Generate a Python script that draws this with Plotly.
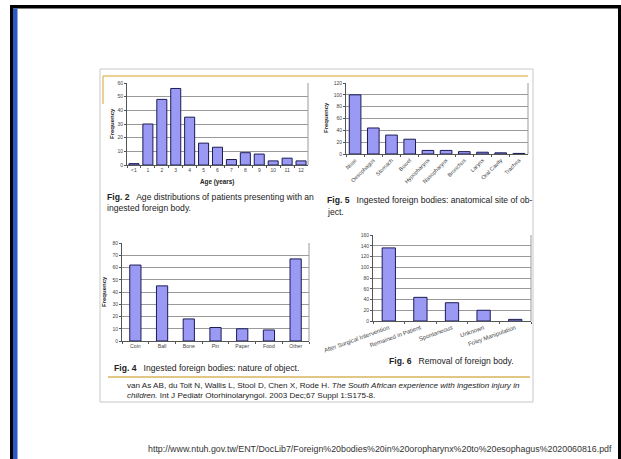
import plotly.graph_objects as go

W, H = 621, 459

# ---- data ----
age_labels = ["<1", "1", "2", "3", "4", "5", "6", "7", "8", "9", "10", "11", "12"]
age_freq = [1, 30, 48, 56, 35, 16, 13, 4, 9, 8, 3, 5, 3]

site_labels = ["Nose", "Oesophagus", "Stomach", "Bowel", "Hypopharynx", "Nasopharynx",
               "Bronchus", "Larynx", "Oral Cavity", "Trachea"]
site_freq = [100, 44, 32, 25, 6, 6, 4, 3, 2, 1]

object_labels = ["Coin", "Ball", "Bone", "Pin", "Paper", "Food", "Other"]
object_freq = [62, 45, 18, 11, 10, 9, 67]

removal_labels = ["After Surgical Intervention", "Remained in Patient", "Spontaneous",
                  "Unknown", "Foley Manipulation"]
removal_freq = [136, 44, 34, 20, 3]

y_ticks_fig2 = [0, 10, 20, 30, 40, 50, 60]
y_ticks_fig5 = [0, 20, 40, 60, 80, 100, 120]
y_ticks_fig4 = [0, 10, 20, 30, 40, 50, 60, 70, 80]
y_ticks_fig6 = [0, 20, 40, 60, 80, 100, 120, 140, 160]


def px(x):
    return x / W


def py(y):
    return 1 - y / H


BAR = "#9a9af5"
BAR_LINE = "#1c1c55"
GRID = "#9a9a9a"
FONT = "Liberation Sans"

fig = go.Figure()

panels = [
    # (xlabels, values, ticks, x0, x1, ytop, ybot, bargap, tickangle, xtick size)
    (age_labels, age_freq, y_ticks_fig2, 127, 308, 83, 165, 0.28, 0, 5),
    (site_labels, site_freq, y_ticks_fig5, 346, 528, 83, 154, 0.36, -45, 5.5),
    (object_labels, object_freq, y_ticks_fig4, 122, 309, 243, 341, 0.58, 0, 5.2),
    (removal_labels, removal_freq, y_ticks_fig6, 373, 531, 235, 321, 0.58, -20, 6),
]

shapes = []
for i, (labs, vals, ticks, x0, x1, yt, yb, gap, ang, xs) in enumerate(panels, start=1):
    xa = "x" if i == 1 else f"x{i}"
    ya = "y" if i == 1 else f"y{i}"
    fig.add_trace(go.Bar(x=labs, y=vals, xaxis=xa, yaxis=ya,
                         marker=dict(color=BAR, line=dict(color=BAR_LINE, width=1)),
                         width=1 - gap, showlegend=False))
    xk = "xaxis" if i == 1 else f"xaxis{i}"
    yk = "yaxis" if i == 1 else f"yaxis{i}"
    fig.layout[xk] = dict(domain=[px(x0), px(x1)], anchor=ya, type="category",
                          tickangle=ang,
                          tickfont=dict(family=FONT, size=xs, color="#444444"),
                          showline=True, linecolor="#555555", linewidth=1,
                          ticks="outside", ticklen=2, tickcolor="#555555",
                          tickson="boundaries", showgrid=False, fixedrange=True,
                          automargin=False)
    fig.layout[yk] = dict(domain=[py(yb), py(yt)], anchor=xa, range=[0, ticks[-1]],
                          tickvals=ticks,
                          tickfont=dict(family=FONT, size=5, color="#444444"),
                          showline=True, linecolor="#555555", linewidth=1,
                          ticks="outside", ticklen=2, tickcolor="#555555",
                          showgrid=True, gridcolor=GRID, gridwidth=1, zeroline=False,
                          fixedrange=True, automargin=False)
    # plot-area frame (right side)
    shapes.append(dict(type="line", xref="paper", yref="paper", x0=px(x1), x1=px(x1),
                       y0=py(yb), y1=py(yt), line=dict(color=GRID, width=1)))

# slide frame
shapes += [
    dict(type="rect", xref="paper", yref="paper", x0=px(10), x1=1, y0=py(8.5), y1=py(5),
         fillcolor="black", line=dict(width=0), layer="above"),
    dict(type="rect", xref="paper", yref="paper", x0=px(10), x1=px(13), y0=0, y1=py(5),
         fillcolor="black", line=dict(width=0), layer="above"),
    dict(type="rect", xref="paper", yref="paper", x0=px(13), x1=px(17.5), y0=0, y1=py(8.5),
         fillcolor="#2a5bc4", line=dict(width=0), layer="above"),
    dict(type="rect", xref="paper", yref="paper", x0=px(618), x1=1, y0=0, y1=py(5),
         fillcolor="black", line=dict(width=0), layer="above"),
    # paper box
    dict(type="rect", xref="paper", yref="paper", x0=px(100), x1=px(533), y0=py(402),
         y1=py(69), line=dict(color="#c8c8c8", width=1), layer="below"),
    # gold rules
    dict(type="line", xref="paper", yref="paper", x0=px(103), x1=px(528), y0=py(76),
         y1=py(76), line=dict(color="#e6c170", width=1.5)),
    dict(type="line", xref="paper", yref="paper", x0=px(103), x1=px(103), y0=py(76),
         y1=py(104), line=dict(color="#e6c170", width=1.5)),
    dict(type="line", xref="paper", yref="paper", x0=px(108), x1=px(530), y0=py(377),
         y1=py(377), line=dict(color="#d9b35e", width=1.5)),
]

ann = []


def text(x, y, s, size=8.6, anchor="left", color="#222222", angle=0, family=FONT):
    ann.append(dict(xref="paper", yref="paper", x=px(x), y=py(y), text=s, showarrow=False,
                    xanchor=anchor, yanchor="middle", textangle=angle,
                    font=dict(family=family, size=size, color=color)))


# axis titles
text(112, 124, "<b>Frequency</b>", size=6, anchor="center", angle=-90)
text(326, 118, "<b>Frequency</b>", size=6, anchor="center", angle=-90)
text(104, 292, "<b>Frequency</b>", size=6, anchor="center", angle=-90)
text(217, 182, "<b>Age (years)</b>", size=6.3, anchor="center")

# captions
text(105, 197, "<b>Fig. 2</b>   Age distributions of patients presenting with an")
text(105, 208, "ingested foreign body.")
text(325, 200, "<b>Fig. 5</b>   Ingested foreign bodies: anatomical site of ob-")
text(325, 212, "ject.")
text(112, 368, "<b>Fig. 4</b>   Ingested foreign bodies: nature of object.")
text(387, 361, "<b>Fig. 6</b>   Removal of foreign body.")

# citation
text(125, 385, "van As AB, du Toit N, Wallis L, Stool D, Chen X, Rode H. "
               "<i>The South African experience with ingestion injury in</i>", size=8.1)
text(125, 395, "<i>children.</i> Int J Pediatr Otorhinolaryngol. 2003 Dec;67 Suppl 1:S175-8.",
     size=8.1)

# url
text(614, 449, "http://www.ntuh.gov.tw/ENT/DocLib7/Foreign%20bodies%20in%20oropharynx"
               "%20to%20esophagus%2020060816.pdf", size=8.85, anchor="right",
     color="#333333")

fig.update_layout(width=W, height=H, margin=dict(l=0, r=0, t=0, b=0),
                  paper_bgcolor="white", plot_bgcolor="white",
                  shapes=shapes, annotations=ann, bargap=0.3)

fig.write_html("out.html")
